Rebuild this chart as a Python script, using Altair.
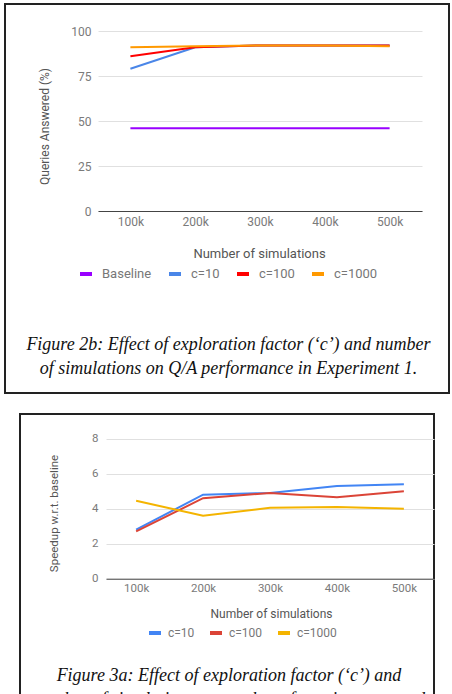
import altair as alt
import pandas as pd

# x categories shared by both figures
sims = ["100k", "200k", "300k", "400k", "500k"]

# Figure 2b: queries answered (%)
qa_series = ["Baseline", "c=10", "c=100", "c=1000"]
qa_colors = ["#9900ff", "#4a86e8", "#ff0000", "#ff9900"]
qa_baseline = [46, 46, 46, 46, 46]
qa_c10 = [79, 91, 92, 92, 92]
qa_c100 = [86, 91, 92, 92, 92]
qa_c1000 = [91, 91.5, 92, 92, 91.5]
qa_ticks = [0, 25, 50, 75, 100]

# Figure 3a: speedup w.r.t. baseline
sp_series = ["c=10", "c=100", "c=1000"]
sp_colors = ["#4285f4", "#db4437", "#f4b400"]
sp_c10 = [2.8, 4.8, 4.9, 5.3, 5.4]
sp_c100 = [2.7, 4.6, 4.9, 4.65, 5.0]
sp_c1000 = [4.45, 3.6, 4.05, 4.1, 4.0]
sp_ticks = [0, 2, 4, 6, 8]

caption_2b = [
    "Figure 2b: Effect of exploration factor (\u2018c\u2019) and number",
    "of simulations on Q/A performance in Experiment 1.",
]
caption_3a = [
    "Figure 3a: Effect of exploration factor (\u2018c\u2019) and",
    "number of simulations on number of queries answered",
]


def long_table(series, columns):
    rows = []
    for name, vals in zip(series, columns):
        for s, v in zip(sims, vals):
            rows.append({"sims": s, "series": name, "value": v})
    return pd.DataFrame(rows)


qa_df = long_table(qa_series, [qa_baseline, qa_c10, qa_c100, qa_c1000])
sp_df = long_table(sp_series, [sp_c10, sp_c100, sp_c1000])


def caption_layers(lines, cx, y0, dy, size):
    layers = []
    for i, line in enumerate(lines):
        layers.append(
            alt.Chart(pd.DataFrame({"t": [line]}))
            .mark_text(font="Liberation Serif", fontStyle="italic", fontSize=size,
                       color="#111", align="center", baseline="middle")
            .encode(text="t:N", x=alt.value(cx), y=alt.value(y0 + i * dy))
        )
    return layers


# ---------- Figure 2b ----------
W1, H1 = 444, 389
qa_left, qa_right, qa_top, qa_bottom = 93, 417, 27, 207

qa_lines = alt.Chart(qa_df).mark_line(strokeWidth=2).encode(
    x=alt.X("sims:N", sort=sims,
            scale=alt.Scale(type="point", range=[qa_left, qa_right], padding=0.5),
            axis=alt.Axis(title="Number of simulations", offset=qa_bottom - H1,
                          grid=False, ticks=False, domainColor="#444",
                          labelPadding=5, labelFontSize=12, labelAngle=0,
                          titleFontSize=13, titleX=254, titleY=42,
                          titleBaseline="middle")),
    y=alt.Y("value:Q",
            scale=alt.Scale(domain=[0, 100], range=[qa_bottom, qa_top], nice=False),
            axis=alt.Axis(title="Queries Answered (%)", values=qa_ticks,
                          offset=-qa_left, domain=False, ticks=False,
                          labelPadding=7, labelFontSize=12, titleFontSize=12,
                          titleX=-54, titleY=122, titleBaseline="middle")),
    color=alt.Color("series:N", sort=qa_series,
                    scale=alt.Scale(domain=qa_series, range=qa_colors),
                    legend=alt.Legend(title=None, orient="none", direction="horizontal",
                                      columns=4, legendX=73, legendY=262,
                                      labelFontSize=13, labelOffset=8,
                                      columnPadding=9)),
)

fig2b = alt.layer(qa_lines, *caption_layers(caption_2b, 223.5, 341, 24, 18)).properties(
    width=W1, height=H1)

# ---------- Figure 3a ----------
W2, H2 = 414, 300
sp_left, sp_right, sp_top, sp_bottom = 86, 414, 24.7, 164.7

sp_lines = alt.Chart(sp_df).mark_line(strokeWidth=2).encode(
    x=alt.X("sims:N", sort=sims,
            scale=alt.Scale(type="point", range=[sp_left, sp_right], padding=0.45),
            axis=alt.Axis(title="Number of simulations", offset=sp_bottom - H2,
                          grid=False, ticks=False, domainColor="#444",
                          labelPadding=4, labelFontSize=11.5, labelAngle=0,
                          titleFontSize=12, titleX=251, titleY=35,
                          titleBaseline="middle")),
    y=alt.Y("value:Q",
            scale=alt.Scale(domain=[0, 8], range=[sp_bottom, sp_top], nice=False),
            axis=alt.Axis(title="Speedup w.r.t. baseline", values=sp_ticks,
                          offset=-sp_left, domain=False, ticks=False,
                          labelPadding=8, labelFontSize=11.5, titleFontSize=11.5,
                          titleX=-52, titleY=99, titleBaseline="middle")),
    color=alt.Color("series:N", sort=sp_series,
                    scale=alt.Scale(domain=sp_series, range=sp_colors),
                    legend=alt.Legend(title=None, orient="none", direction="horizontal",
                                      columns=3, legendX=127, legendY=211,
                                      labelFontSize=12, labelOffset=5,
                                      columnPadding=7)),
)

fig3a = alt.layer(sp_lines, *caption_layers(caption_3a, 209, 261.7, 24, 18)).properties(
    width=W2, height=H2)

chart = (
    alt.vconcat(fig2b, fig3a, spacing=19, center=True)
    .resolve_scale(x="independent", y="independent", color="independent")
    .resolve_legend(color="independent")
    .properties(padding={"left": 4, "top": 3, "right": 0, "bottom": 0},
                background="white")
    .configure_view(stroke="#222", strokeWidth=2)
    .configure_axis(labelFont="Roboto", titleFont="Roboto", labelColor="#7a7a7a",
                    titleColor="#555", titleFontWeight="normal",
                    gridColor="#e0e0e0", gridWidth=1)
    .configure_legend(labelFont="Roboto", labelColor="#777", symbolType="stroke",
                      symbolStrokeWidth=4, symbolSize=144, padding=0)
)

chart.save("out.html", embed_options={"renderer": "svg", "actions": False})
